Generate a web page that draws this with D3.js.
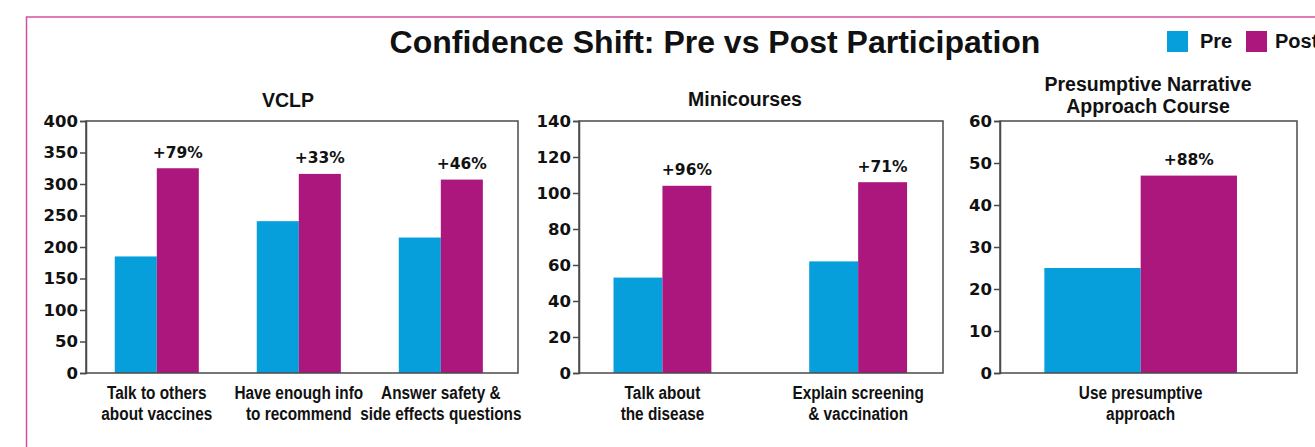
<!DOCTYPE html>
<html>
<head>
<meta charset="utf-8">
<script src="https://cdn.jsdelivr.net/npm/d3@7"></script>
<style>
  html, body { margin: 0; padding: 0; background: #ffffff; }
  svg { display: block; }
</style>
</head>
<body>
<svg id="chart" width="1315" height="447"></svg>
<script>
// ---------- DATA ----------
const chartTitle = "Confidence Shift: Pre vs Post Participation";
const seriesNames = ["Pre", "Post"];

const vclpTitle = ["VCLP"];
const vclpCategories = [["Talk to others", "about vaccines"], ["Have enough info", "to recommend"], ["Answer safety &", "side effects questions"]];
const vclpPre = [185, 241, 215];
const vclpPost = [325, 316, 307];
const vclpChange = ["+79%", "+33%", "+46%"];
const vclpTicks = [0, 50, 100, 150, 200, 250, 300, 350, 400];

const miniTitle = ["Minicourses"];
const miniCategories = [["Talk about", "the disease"], ["Explain screening", "& vaccination"]];
const miniPre = [53, 62];
const miniPost = [104, 106];
const miniChange = ["+96%", "+71%"];
const miniTicks = [0, 20, 40, 60, 80, 100, 120, 140];

const pnaTitle = ["Presumptive Narrative", "Approach Course"];
const pnaCategories = [["Use presumptive", "approach"]];
const pnaPre = [25];
const pnaPost = [47];
const pnaChange = ["+88%"];
const pnaTicks = [0, 10, 20, 30, 40, 50, 60];

// ---------- STYLE / LAYOUT ----------
const colors = { Pre: "#069fdc", Post: "#ab177d" };
const fontMain = "'Liberation Sans', Arial, sans-serif";
const fontTicks = "'DejaVu Sans', Verdana, sans-serif";
const plotTop = 121, plotBottom = 373;
const narrowScale = 0.83;

const panels = [
  { title: vclpTitle, titleX: 288, titleY: [106.5], cats: vclpCategories, pre: vclpPre, post: vclpPost, change: vclpChange, ticks: vclpTicks,
    x0: 86, x1: 518, padIn: 0.408, padOut: 0.225, align: 0.45 },
  { title: miniTitle, titleX: 745, titleY: [106], cats: miniCategories, pre: miniPre, post: miniPost, change: miniChange, ticks: miniTicks,
    x0: 579, x1: 943, padIn: 0.5, padOut: 0.18, align: 0.49 },
  { title: pnaTitle, titleX: 1148, titleY: [90.5, 112.5], cats: pnaCategories, pre: pnaPre, post: pnaPost, change: pnaChange, ticks: pnaTicks,
    x0: 1000, x1: 1297, padIn: 0, padOut: 0.271, align: 0.425 }
];

const svg = d3.select("#chart");

svg.append("rect").attr("x", 0).attr("y", 0).attr("width", 1315).attr("height", 447).attr("fill", "#ffffff");

// outer border (extends beyond the viewport right and bottom)
svg.append("rect")
  .attr("x", 26.5).attr("y", 17)
  .attr("width", 1400).attr("height", 500)
  .attr("fill", "none")
  .attr("stroke", "#d2519d")
  .attr("stroke-width", 1.5);

// main title
svg.append("text")
  .attr("x", 715).attr("y", 53)
  .attr("text-anchor", "middle")
  .attr("font-family", fontMain)
  .attr("font-weight", "bold")
  .attr("font-size", 32)
  .attr("fill", "#111")
  .text(chartTitle);

// legend
const legendX = [1167, 1246];
const legendTextX = [1200, 1275];
seriesNames.forEach((s, i) => {
  svg.append("rect")
    .attr("x", legendX[i]).attr("y", 31)
    .attr("width", 21).attr("height", 21)
    .attr("fill", colors[s]);
  svg.append("text")
    .attr("x", legendTextX[i]).attr("y", 48)
    .attr("font-family", fontMain)
    .attr("font-weight", "bold")
    .attr("font-size", 20)
    .attr("fill", "#111")
    .text(s);
});

panels.forEach(p => {
  const g = svg.append("g");
  const idx = p.cats.map((d, i) => i);

  const x = d3.scaleBand().domain(idx).range([p.x0, p.x1])
    .paddingInner(p.padIn).paddingOuter(p.padOut).align(p.align);
  const xs = d3.scaleBand().domain(seriesNames).range([0, x.bandwidth()]).padding(0);
  const maxTick = p.ticks[p.ticks.length - 1];
  const y = d3.scaleLinear().domain([0, maxTick]).range([plotBottom, plotTop]);

  const rows = idx.map(i => ({ i, Pre: p.pre[i], Post: p.post[i] }));
  const grp = g.selectAll("g.cat").data(rows).join("g")
    .attr("transform", d => `translate(${x(d.i)},0)`);
  grp.selectAll("rect").data(d => seriesNames.map(s => ({ s, v: d[s] }))).join("rect")
    .attr("x", d => xs(d.s))
    .attr("y", d => y(d.v))
    .attr("width", xs.bandwidth())
    .attr("height", d => y(0) - y(d.v))
    .attr("fill", d => colors[d.s]);

  g.selectAll("text.chg").data(rows).join("text")
    .attr("class", "chg")
    .attr("x", d => x(d.i) + xs("Post") + xs.bandwidth() / 2)
    .attr("y", d => y(d.Post) - 10.5)
    .attr("text-anchor", "middle")
    .attr("font-family", fontTicks)
    .attr("font-weight", "bold")
    .attr("font-size", 15.5)
    .attr("fill", "#111")
    .text(d => p.change[d.i]);

  g.append("rect")
    .attr("x", p.x0).attr("y", plotTop)
    .attr("width", p.x1 - p.x0).attr("height", plotBottom - plotTop)
    .attr("fill", "none")
    .attr("stroke", "#4a4a4a")
    .attr("stroke-width", 1.5);

  const ax = g.append("g")
    .attr("transform", `translate(${p.x0},0)`)
    .call(d3.axisLeft(y).tickValues(p.ticks).tickSize(6).tickPadding(2).tickFormat(d3.format("d")));
  ax.select(".domain").attr("stroke", "#4a4a4a").attr("stroke-width", 1.5);
  ax.selectAll(".tick line").attr("stroke", "#4a4a4a").attr("stroke-width", 1.5);
  ax.selectAll(".tick text")
    .attr("font-family", fontTicks)
    .attr("font-weight", "bold")
    .attr("font-size", 16.5)
    .attr("fill", "#111");

  // x category labels (horizontally condensed)
  const xg = g.selectAll("g.xl").data(rows).join("g")
    .attr("class", "xl")
    .attr("transform", d => `translate(${x(d.i) + x.bandwidth() / 2},0) scale(${narrowScale},1)`);
  const xl = xg.append("text")
    .attr("text-anchor", "middle")
    .attr("font-family", fontMain)
    .attr("font-weight", "bold")
    .attr("font-size", 18.5)
    .attr("fill", "#111");
  xl.each(function(d) {
    const t = d3.select(this);
    p.cats[d.i].forEach((line, k) => {
      t.append("tspan").attr("x", 0).attr("y", 399.5 + k * 21).text(line);
    });
  });

  const tt = g.append("text")
    .attr("text-anchor", "middle")
    .attr("font-family", fontMain)
    .attr("font-weight", "bold")
    .attr("font-size", 19.5)
    .attr("fill", "#111");
  p.title.forEach((line, k) => {
    tt.append("tspan").attr("x", p.titleX).attr("y", p.titleY[k]).text(line);
  });
});
</script>
</body>
</html>
